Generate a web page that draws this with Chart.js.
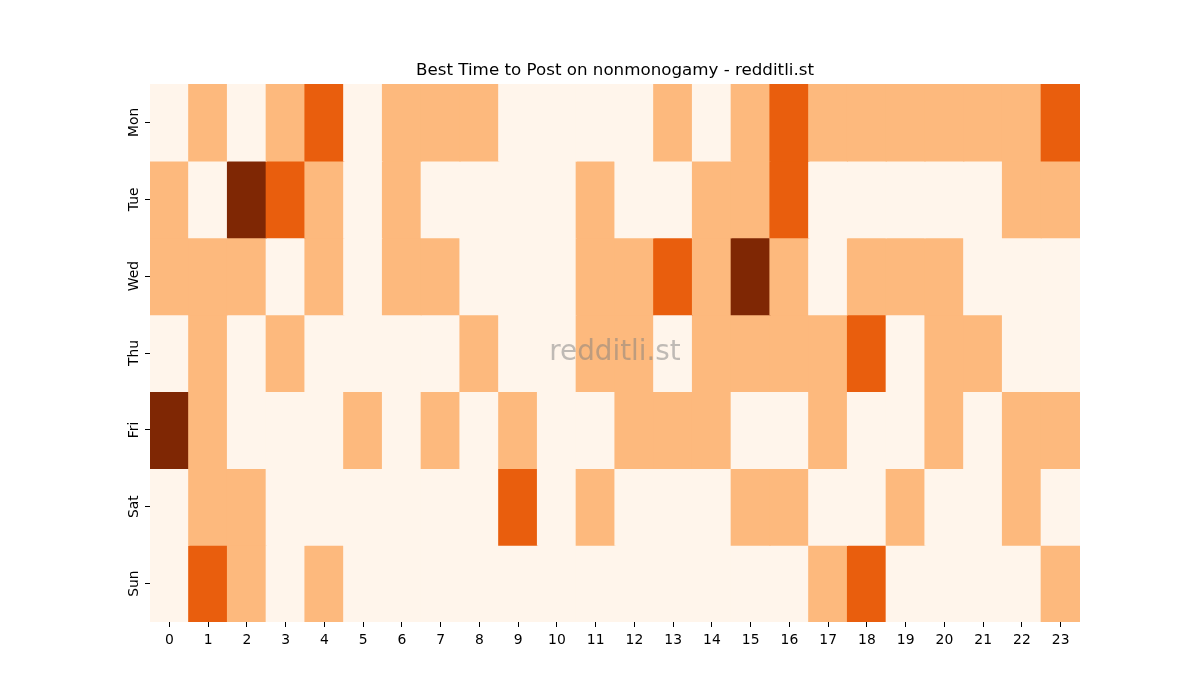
<!DOCTYPE html>
<html>
<head>
<meta charset="utf-8">
<script src="https://cdn.jsdelivr.net/npm/chart.js@4.4.1/dist/chart.umd.min.js"></script>
<style>
  html, body { margin: 0; padding: 0; background: #ffffff; }
  #wrap { width: 1200px; height: 700px; }
</style>
</head>
<body>
<div id="wrap"><canvas id="c" width="1200" height="700"></canvas></div>
<script>
// ---- data ----
const hours = ['0','1','2','3','4','5','6','7','8','9','10','11','12','13','14','15','16','17','18','19','20','21','22','23'];
const days = ['Mon','Tue','Wed','Thu','Fri','Sat','Sun'];
const mon = [0,1,0,1,2,0,1,1,1,0,0,0,0,1,0,1,2,1,1,1,1,1,1,2];
const tue = [1,0,3,2,1,0,1,0,0,0,0,1,0,0,1,1,2,0,0,0,0,0,1,1];
const wed = [1,1,1,0,1,0,1,1,0,0,0,1,1,2,1,3,1,0,1,1,1,0,0,0];
const thu = [0,1,0,1,0,0,0,0,1,0,0,1,1,0,1,1,1,1,2,0,1,1,0,0];
const fri = [3,1,0,0,0,1,0,1,0,1,0,0,1,1,1,0,0,1,0,0,1,0,1,1];
const sat = [0,1,1,0,0,0,0,0,0,2,0,1,0,0,0,1,1,0,0,1,0,0,1,0];
const sun = [0,2,1,0,1,0,0,0,0,0,0,0,0,0,0,0,0,1,2,0,0,0,0,1];
const rows = [mon, tue, wed, thu, fri, sat, sun];
const palette = ['#fff5eb', '#fdb97d', '#e95e0d', '#7f2704'];
const titleText = 'Best Time to Post on nonmonogamy - redditli.st';
const watermarkText = 'redditli.st';

const FONT = "'DejaVu Sans', sans-serif";
const nDays = days.length;
const seam = 0.008; // tiny overlap so adjacent cells leave no anti-aliasing seams

// one dataset per day, each cell is a floating bar spanning its row
const datasets = rows.map((vals, i) => {
  const lo = nDays - 1 - i;
  return {
    label: days[i],
    data: vals.map(() => [lo - seam, lo + 1 + seam]),
    backgroundColor: vals.map(v => palette[v]),
    borderWidth: 0,
    borderSkipped: false,
    categoryPercentage: 1,
    barPercentage: 1.03,
    grouped: false
  };
});

const decorations = {
  id: 'decorations',
  afterDraw(chart) {
    const {ctx, chartArea} = chart;
    const cx = (chartArea.left + chartArea.right) / 2;
    ctx.save();
    // watermark
    ctx.font = "27.8px " + FONT;
    ctx.fillStyle = 'rgba(128,128,128,0.5)';
    ctx.textAlign = 'center';
    ctx.textBaseline = 'middle';
    ctx.fillText(watermarkText, cx, (chartArea.top + chartArea.bottom) / 2);
    // title, centred over the plot area
    ctx.font = "16.7px " + FONT;
    ctx.fillStyle = '#000';
    ctx.textBaseline = 'alphabetic';
    ctx.fillText(titleText, cx, chartArea.top - 9);
    ctx.restore();
  }
};

new Chart(document.getElementById('c'), {
  type: 'bar',
  data: { labels: hours, datasets },
  plugins: [decorations],
  options: {
    responsive: false,
    animation: false,
    layout: { padding: { left: 0, right: 120, top: 84, bottom: 0 } },
    plugins: {
      legend: { display: false },
      tooltip: { enabled: false },
      title: { display: false }
    },
    scales: {
      x: {
        type: 'category',
        offset: true,
        border: { display: false },
        grid: { offset: false, drawOnChartArea: false, drawTicks: true, tickLength: 5, tickWidth: 1, tickColor: '#000' },
        ticks: { color: '#000', font: { family: FONT, size: 13.9 }, padding: 5, maxRotation: 0, minRotation: 0, autoSkip: false },
        afterFit(scale) { scale.height = 78; }
      },
      y: {
        type: 'linear',
        min: 0,
        max: nDays,
        border: { display: false },
        grid: { drawOnChartArea: false, drawTicks: true, tickLength: 5, tickWidth: 1, tickColor: '#000' },
        afterBuildTicks(scale) {
          scale.ticks = days.map((d, i) => ({ value: nDays - 1 - i + 0.5 }));
        },
        ticks: {
          color: '#000',
          font: { family: FONT, size: 13.9 },
          minRotation: 90,
          maxRotation: 90,
          crossAlign: 'center',
          padding: -4.5,
          callback(value) { return days[nDays - 1 - Math.floor(value)]; }
        },
        afterFit(scale) { scale.width = 150; }
      }
    }
  }
});
</script>
</body>
</html>
